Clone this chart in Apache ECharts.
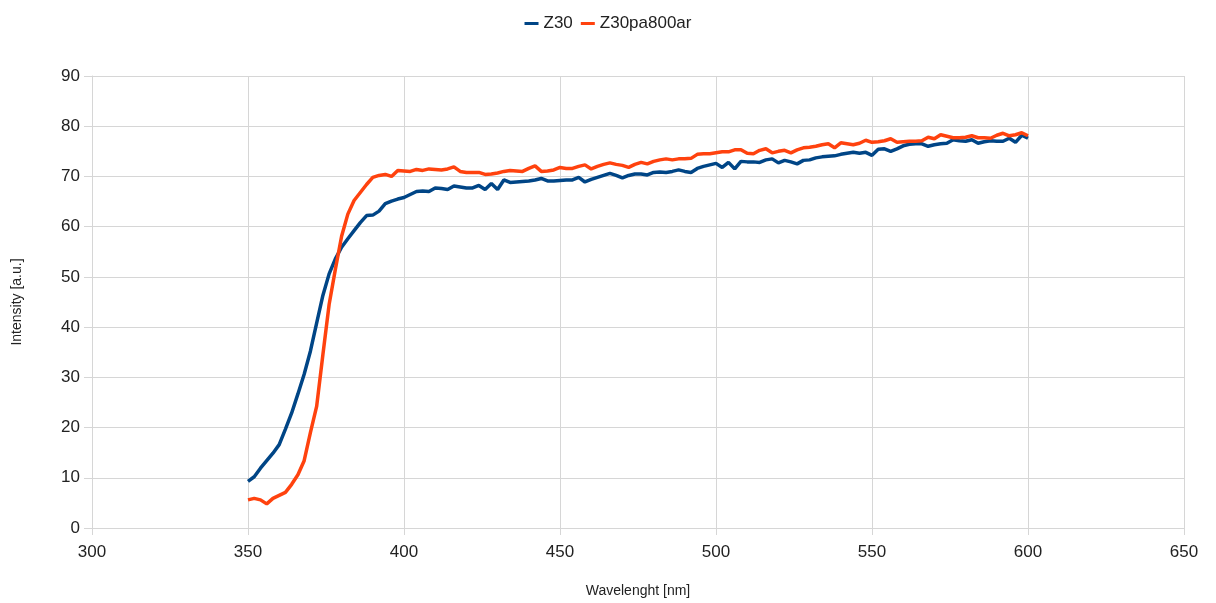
<!DOCTYPE html>
<html>
<head>
    <meta charset="utf-8">
    <title>Intensity vs wavelength</title>
    <style>
        html, body { margin: 0; padding: 0; background: #fff; }
        #chart { width: 1216px; height: 603px; }
    </style>
</head>
<body>
    <div id="chart"></div>
    <script src="https://cdn.jsdelivr.net/npm/echarts@6/dist/echarts.min.js"></script>
    <script type="text/javascript">
        // wavelengths, 350..600 nm in 2 nm steps
        var wavelengths = [];
        for (var w = 350; w <= 600; w += 2) { wavelengths.push(w); }

        var z30 = [
            9.3, 10.2, 11.9, 13.4, 14.9, 16.6, 19.7, 22.9, 26.7, 30.6,
            35.2, 40.8, 46.3, 50.6, 53.6, 55.9, 57.6, 59.2, 60.8, 62.2,
            62.3, 63.1, 64.6, 65.1, 65.5, 65.8, 66.4, 67.0, 67.1, 67.0,
            67.7, 67.6, 67.4, 68.1, 67.9, 67.7, 67.7, 68.2, 67.4, 68.6,
            67.4, 69.3, 68.8, 68.9, 69.0, 69.1, 69.3, 69.6, 69.1, 69.1,
            69.2, 69.3, 69.3, 69.8, 68.9, 69.4, 69.8, 70.2, 70.6, 70.2,
            69.7, 70.2, 70.5, 70.5, 70.3, 70.8, 70.9, 70.8, 71.0, 71.3,
            71.0, 70.8, 71.6, 72.0, 72.3, 72.6, 71.8, 72.8, 71.5, 73.0,
            72.9, 72.9, 72.8, 73.3, 73.5, 72.7, 73.2, 72.9, 72.5, 73.2,
            73.3, 73.7, 73.9, 74.0, 74.1, 74.4, 74.6, 74.8, 74.6, 74.8,
            74.2, 75.4, 75.5, 75.0, 75.5, 76.1, 76.4, 76.5, 76.5, 76.0,
            76.3, 76.5, 76.6, 77.3, 77.1, 77.0, 77.3, 76.6, 76.9, 77.1,
            77.0, 77.0, 77.6, 76.8, 78.2, 77.6
        ];

        var z30pa800ar = [
            5.6, 5.9, 5.6, 4.8, 5.9, 6.5, 7.1, 8.7, 10.6, 13.4,
            19.0, 24.2, 34.5, 44.5, 51.5, 58.1, 62.5, 65.2, 66.8, 68.4,
            69.8, 70.2, 70.4, 70.0, 71.2, 71.1, 71.0, 71.4, 71.2, 71.5,
            71.4, 71.3, 71.5, 71.9, 71.0, 70.8, 70.8, 70.8, 70.4, 70.5,
            70.7, 71.0, 71.2, 71.1, 71.0, 71.6, 72.1, 71.0, 71.1, 71.3,
            71.8, 71.6, 71.6, 72.0, 72.3, 71.5, 72.0, 72.4, 72.7, 72.4,
            72.2, 71.8, 72.4, 72.8, 72.5, 73.0, 73.3, 73.5, 73.3, 73.5,
            73.5, 73.6, 74.4, 74.5, 74.5, 74.7, 74.9, 74.9, 75.3, 75.3,
            74.6, 74.5, 75.2, 75.5, 74.7, 75.0, 75.2, 74.7, 75.3, 75.7,
            75.8, 76.0, 76.3, 76.5, 75.7, 76.7, 76.5, 76.3, 76.6, 77.2,
            76.8, 76.9, 77.1, 77.5, 76.8, 76.9, 77.0, 77.0, 77.1, 77.8,
            77.5, 78.3, 78.0, 77.7, 77.7, 77.8, 78.1, 77.7, 77.7, 77.6,
            78.2, 78.6, 78.1, 78.3, 78.7, 78.1
        ];

        function pairs(ys) {
            var out = [];
            for (var i = 0; i < ys.length; i++) {
                out.push([wavelengths[i], ys[i]]);
            }
            return out;
        }

        var chart = echarts.init(document.getElementById('chart'));
        var gridColor = '#d6d6d6';
        var font = '"Liberation Sans", Arial, sans-serif';

        var option = {
            animation: false,
            textStyle: { fontFamily: font },
            legend: {
                top: 10,
                left: 'center',
                icon: 'rect',
                itemWidth: 14,
                itemHeight: 3,
                itemGap: 8,
                textStyle: { fontSize: 17, color: '#222', fontFamily: font },
                data: ['Z30', 'Z30pa800ar']
            },
            grid: {
                left: 92,
                right: 32,
                top: 76,
                bottom: 75,
                containLabel: false
            },
            xAxis: {
                type: 'value',
                min: 300,
                max: 650,
                interval: 50,
                name: 'Wavelenght [nm]',
                nameLocation: 'middle',
                nameGap: 56,
                nameTextStyle: { fontSize: 14, color: '#222', fontFamily: font },
                axisLine: { show: true, lineStyle: { color: gridColor } },
                axisTick: { show: true, length: 7, lineStyle: { color: gridColor } },
                axisLabel: { fontSize: 17, color: '#222', margin: 16, fontFamily: font },
                splitLine: { show: true, lineStyle: { color: gridColor } }
            },
            yAxis: {
                type: 'value',
                min: 0,
                max: 90,
                interval: 10,
                name: 'Intensity [a.u.]',
                nameLocation: 'middle',
                nameGap: 68,
                nameTextStyle: { fontSize: 14, color: '#222', fontFamily: font },
                axisLine: { show: true, lineStyle: { color: gridColor } },
                axisTick: { show: true, length: 8, lineStyle: { color: gridColor } },
                axisLabel: { fontSize: 17, color: '#222', margin: 12, fontFamily: font },
                splitLine: { show: true, lineStyle: { color: gridColor } }
            },
            series: [
                {
                    name: 'Z30',
                    type: 'line',
                    showSymbol: false,
                    symbol: 'none',
                    lineStyle: { width: 3.5, color: '#004586' },
                    itemStyle: { color: '#004586' },
                    data: pairs(z30)
                },
                {
                    name: 'Z30pa800ar',
                    type: 'line',
                    showSymbol: false,
                    symbol: 'none',
                    lineStyle: { width: 3.5, color: '#ff420e' },
                    itemStyle: { color: '#ff420e' },
                    data: pairs(z30pa800ar)
                }
            ]
        };
        chart.setOption(option);
    </script>
</body>
</html>
